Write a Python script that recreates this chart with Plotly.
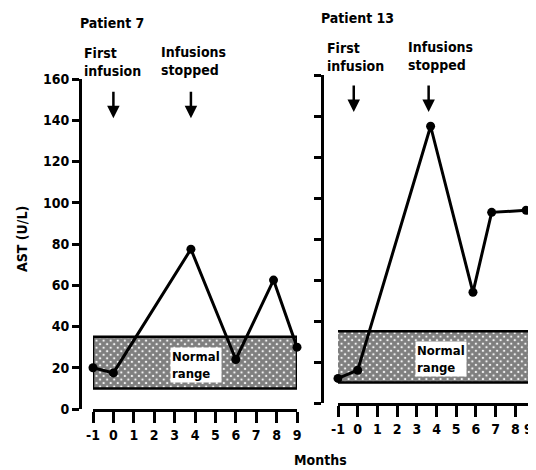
import plotly.graph_objects as go

# ---- data ----
p7_months = [-1, 0, 3.8, 6, 7.85, 9]
p7_ast = [20, 17.5, 77.5, 24, 62.5, 30]
p13_months = [-1, 0, 3.7, 5.85, 6.8, 8.55]
p13_ast = [12, 16, 135, 54, 93, 94]
normal_low = 10
normal_high = 35
x_ticks = [-1, 0, 1, 2, 3, 4, 5, 6, 7, 8, 9]
y_ticks = [0, 20, 40, 60, 80, 100, 120, 140, 160]

W, H = 536, 470
OFF = 8  # page body margin offset
FONT = "DejaVu Sans Condensed, DejaVu Sans, sans-serif"

def px(x):
    return (x - OFF) / W

def py(y):
    return 1 - (y - OFF) / H

fig = go.Figure()

pattern = dict(shape="x", bgcolor="white", fgcolor="black", size=5, solidity=0.85)

# normal range bands
for xa, ya, xr in [("x", "y", (-1, 9)), ("x2", "y2", (-1.15, 9.1))]:
    fig.add_trace(go.Scatter(
        x=[xr[0], xr[1], xr[1], xr[0], xr[0]],
        y=[normal_low, normal_low, normal_high, normal_high, normal_low],
        fill="toself", fillpattern=pattern, fillcolor="white",
        line=dict(color="black", width=2.5), mode="lines",
        xaxis=xa, yaxis=ya, hoverinfo="skip", showlegend=False))

# patient lines
fig.add_trace(go.Scatter(x=p7_months, y=p7_ast, mode="lines+markers",
                         line=dict(color="black", width=3), marker=dict(size=9, color="black"),
                         xaxis="x", yaxis="y", cliponaxis=False, showlegend=False))
fig.add_trace(go.Scatter(x=p13_months, y=p13_ast, mode="lines+markers",
                         line=dict(color="black", width=3), marker=dict(size=9, color="black"),
                         xaxis="x2", yaxis="y2", cliponaxis=False, showlegend=False))

axis_common = dict(showgrid=False, zeroline=False, showline=True, linecolor="black",
                   ticks="outside", tickcolor="black", automargin=False,
                   tickfont=dict(family=FONT, size=14, color="black", weight="bold"))

# last right-panel tick label sits at the window edge: drawn separately so it stays visible
right_ticktext = [str(v) for v in x_ticks[:-1]] + [""]

fig.update_layout(
    width=W, height=H, margin=dict(l=0, r=0, t=0, b=0, autoexpand=False),
    paper_bgcolor="white", plot_bgcolor="rgba(0,0,0,0)",
    xaxis=dict(domain=[px(93), px(297)], range=[-1, 9], anchor="y",
               tickvals=x_ticks, ticktext=[str(v) for v in x_ticks],
               ticklen=11, tickwidth=2.5, linewidth=2.5, **axis_common),
    yaxis=dict(domain=[py(409), py(79)], range=[0, 160], anchor="free", position=px(80),
               tickvals=y_ticks, ticktext=[str(v) for v in y_ticks],
               ticklen=7, tickwidth=2.5, linewidth=3, **axis_common),
    xaxis2=dict(domain=[px(338), px(536)], range=[-1, 9.05], anchor="y2",
                tickvals=x_ticks, ticktext=right_ticktext,
                ticklen=11, tickwidth=2.5, linewidth=2.5, **axis_common),
    yaxis2=dict(domain=[py(403), py(75)], range=[0, 160], anchor="free", position=px(322),
                tickvals=y_ticks, showticklabels=False,
                ticklen=7, tickwidth=2.5, linewidth=3, **axis_common),
)

def txt(text, x, y, xanchor="left", size=14, angle=0, bg=None):
    fig.add_annotation(text=text, x=px(x), y=py(y), xref="paper", yref="paper",
                       xanchor=xanchor, yanchor="middle", showarrow=False, align="left",
                       textangle=angle, bgcolor=bg, borderpad=1,
                       font=dict(family=FONT, size=size, color="black", weight="bold"))

txt("Patient 7", 78, 23)
txt("First<br>infusion", 82, 62)
txt("Infusions<br>stopped", 159, 61)
txt("Patient 13", 319, 18)
txt("First<br>infusion", 325, 57)
txt("Infusions<br>stopped", 406, 56)
txt("Normal<br>range", 170, 365, size=13, bg="white")
txt("Normal<br>range", 415, 359, size=13, bg="white")
txt("AST (U/L)", 22, 239, xanchor="center", angle=-90, size=14)
txt("Months", 320, 460, xanchor="center", size=14)
txt(str(x_ticks[-1]), 535, 429, xanchor="right", size=14)

# arrows
for xv, xa, ya, yv in [(0, "x", "y", 141), (3.8, "x", "y", 141),
                       (-0.2, "x2", "y2", 142), (3.6, "x2", "y2", 142)]:
    fig.add_annotation(x=xv, y=yv, xref=xa, yref=ya, ax=0, ay=-28, text="",
                       showarrow=True, arrowhead=2, arrowsize=1, arrowwidth=2.5,
                       arrowcolor="black")

fig.write_html("out.html")
